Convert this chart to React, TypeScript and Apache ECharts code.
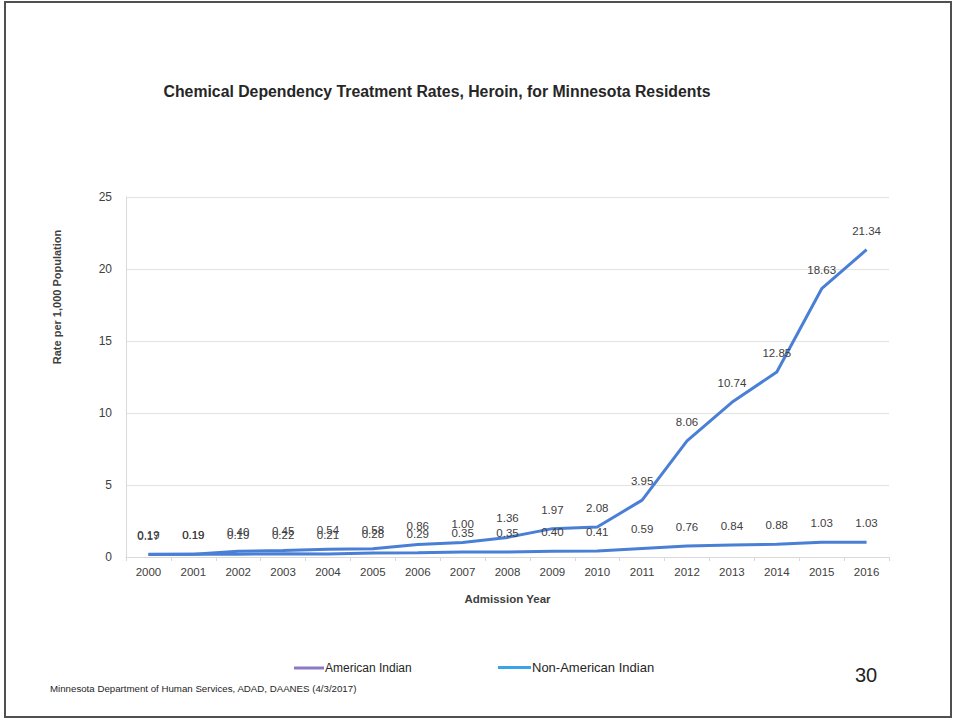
import React, { useEffect, useRef } from "react";
import * as echarts from "echarts";

const years = ["2000","2001","2002","2003","2004","2005","2006","2007","2008","2009","2010","2011","2012","2013","2014","2015","2016"];
const americanIndian = [0.19, 0.19, 0.40, 0.45, 0.54, 0.58, 0.86, 1.00, 1.36, 1.97, 2.08, 3.95, 8.06, 10.74, 12.85, 18.63, 21.34];
const nonAmericanIndian = [0.17, 0.19, 0.19, 0.22, 0.21, 0.28, 0.29, 0.35, 0.35, 0.40, 0.41, 0.59, 0.76, 0.84, 0.88, 1.03, 1.03];
const yTicks = [0, 5, 10, 15, 20, 25];

const LINE_COLOR = "#4a7fd6";
const FONT = "'Liberation Sans', Arial, sans-serif";

export default function App() {
  const ref = useRef<HTMLDivElement>(null);
  useEffect(() => {
    document.body.style.margin = "0";
    const chart = echarts.init(ref.current!, null, { renderer: "svg" });
    const labelCfg = {
      show: true,
      position: "top" as const,
      distance: 13,
      color: "#404040",
      fontSize: 11.5,
      fontFamily: FONT,
      formatter: (p: any) => Number(p.value).toFixed(2),
    };
    const legendText = { fontFamily: FONT, fontSize: 12, color: "#262626", padding: [0, 0, 0, -4] };
    chart.setOption({
      animation: false,
      backgroundColor: "#ffffff",
      title: {
        text: "Chemical Dependency Treatment Rates, Heroin, for Minnesota Residents",
        left: 432,
        textAlign: "center",
        top: 78,
        textStyle: { fontFamily: FONT, fontSize: 15.8, fontWeight: "bold", color: "#262626" },
      },
      grid: { left: 126, top: 197, width: 763, height: 360, containLabel: false },
      xAxis: {
        type: "category",
        data: years,
        boundaryGap: true,
        name: "Admission Year",
        nameLocation: "middle",
        nameGap: 36,
        nameTextStyle: { fontFamily: FONT, fontSize: 11.5, fontWeight: "bold", color: "#404040" },
        axisLine: { show: true, lineStyle: { color: "#d9d9d9", width: 1 } },
        axisTick: { show: true, length: 4, lineStyle: { color: "#d9d9d9" } },
        axisLabel: { fontFamily: FONT, fontSize: 11.5, color: "#404040", margin: 9 },
      },
      yAxis: {
        type: "value",
        min: 0,
        max: 25,
        interval: 5,
        axisLine: { show: true, lineStyle: { color: "#d9d9d9" } },
        axisTick: { show: false },
        axisLabel: {
          fontFamily: FONT,
          fontSize: 12,
          color: "#404040",
          margin: 14,
          formatter: (v: number) => (yTicks.includes(v) ? String(v) : ""),
        },
        splitLine: { show: true, lineStyle: { color: "#e3e3e3", width: 1 } },
      },
      legend: [
        {
          left: 289,
          top: 657,
          icon: "rect",
          itemWidth: 30,
          itemHeight: 3,
          textStyle: legendText,
          data: [{ name: "American Indian", itemStyle: { color: "#8e78c4" } }],
        },
        {
          left: 493,
          top: 656,
          icon: "rect",
          itemWidth: 33,
          itemHeight: 3,
          textStyle: { ...legendText, fontSize: 13 },
          data: [{ name: "Non-American Indian", itemStyle: { color: "#3ba3e8" } }],
        },
      ],
      series: [
        {
          name: "American Indian",
          type: "line",
          data: americanIndian,
          symbol: "circle",
          symbolSize: 0.1,
          showSymbol: true,
          lineStyle: { color: LINE_COLOR, width: 3 },
          itemStyle: { color: LINE_COLOR },
          label: labelCfg,
        },
        {
          name: "Non-American Indian",
          type: "line",
          data: nonAmericanIndian,
          symbol: "circle",
          symbolSize: 0.1,
          showSymbol: true,
          lineStyle: { color: LINE_COLOR, width: 3 },
          itemStyle: { color: LINE_COLOR },
          label: labelCfg,
        },
      ],
      graphic: [
        {
          type: "rect",
          shape: { x: 5, y: 2, width: 946, height: 715 },
          style: { fill: "none", stroke: "#505050", lineWidth: 2 },
          silent: true,
        },
        {
          type: "text",
          x: 57,
          y: 297,
          rotation: Math.PI / 2,
          style: {
            text: "Rate per 1,000 Population",
            fontFamily: FONT,
            fontSize: 11,
            fontWeight: "bold",
            fill: "#404040",
            align: "center",
            verticalAlign: "middle",
          },
        },
        {
          type: "text",
          x: 50,
          y: 688,
          style: {
            text: "Minnesota Department of Human Services, ADAD, DAANES (4/3/2017)",
            fontFamily: FONT,
            fontSize: 9.7,
            fill: "#262626",
            align: "left",
            verticalAlign: "middle",
          },
        },
        {
          type: "text",
          x: 866,
          y: 675,
          style: {
            text: "30",
            fontFamily: FONT,
            fontSize: 20,
            fill: "#222222",
            align: "center",
            verticalAlign: "middle",
          },
        },
      ],
    });
    return () => chart.dispose();
  }, []);
  return <div ref={ref} style={{ position: "absolute", left: 0, top: 0, width: 957, height: 721 }} />;
}
